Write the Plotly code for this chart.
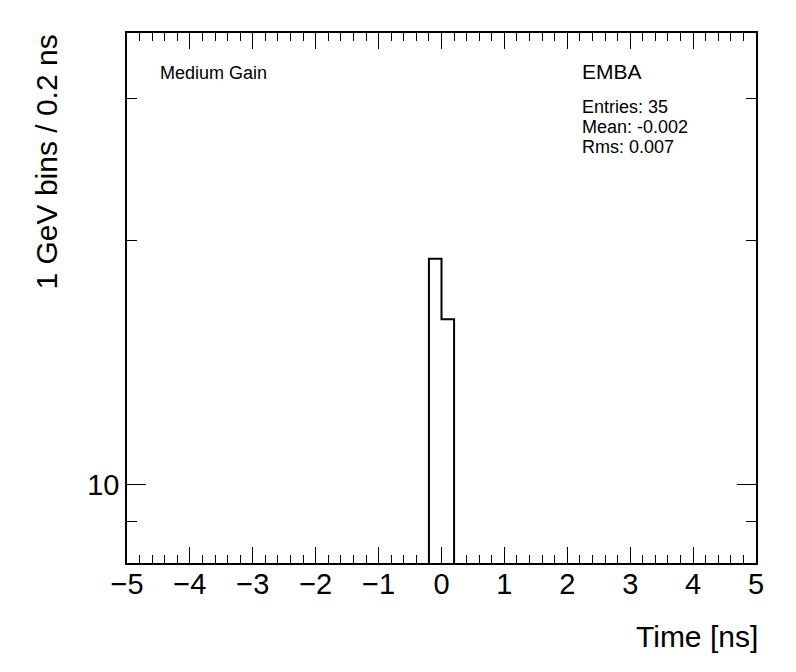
import plotly.graph_objects as go
import math

# ---- data ----
bin_lo = [-0.2, 0.0]
bin_hi = [0.0, 0.2]
counts = [19, 16]
x_range = [-5, 5]
y_range = [8.0, 36.1]
y_major = [10]
y_major_text = ["10"]
y_minor = [9, 20, 30]
stats_title = "EMBA"
stats_lines = ["Entries: 35", "Mean: -0.002", "Rms: 0.007"]
gain_label = "Medium Gain"

# step outline built from bins (drop to below axis at the ends)
floor_y = y_range[0] * 0.5
xs, ys = [bin_lo[0]], [floor_y]
for lo, hi, c in zip(bin_lo, bin_hi, counts):
    xs += [lo, hi]
    ys += [c, c]
xs.append(bin_hi[-1])
ys.append(floor_y)

FONT = "Liberation Sans, Arial, Helvetica, sans-serif"

fig = go.Figure()
fig.add_trace(go.Scatter(x=xs, y=ys, mode="lines",
                         line=dict(color="black", width=2), showlegend=False,
                         hoverinfo="skip"))

# plot area in reference pixels
L, T, W, H = 127, 33, 629, 530
OFF = 8  # page body margin

def px(x):
    return (x - L) / W

def py(y):
    return (T + H - y) / H

fig.update_layout(
    width=796, height=672,
    margin=dict(l=L - OFF, r=796 - (L - OFF) - W, t=T - OFF, b=672 - (T - OFF) - H),
    paper_bgcolor="white", plot_bgcolor="white",
    font=dict(family=FONT, color="black"),
    xaxis=dict(range=x_range, showgrid=False, zeroline=False,
               showline=True, linecolor="black", linewidth=1.5, mirror="ticks",
               ticks="inside", ticklen=16, tickwidth=1, tickcolor="black",
               dtick=1, tick0=0, tickfont=dict(size=29, family=FONT),
               ticklabelstandoff=-6,
               minor=dict(ticks="inside", ticklen=8, dtick=0.2, tick0=0,
                          tickcolor="black", tickwidth=1, showgrid=False)),
    yaxis=dict(type="log", range=[math.log10(y_range[0]), math.log10(y_range[1])],
               showgrid=False, zeroline=False,
               showline=True, linecolor="black", linewidth=1.5, mirror="ticks",
               ticks="inside", ticklen=19, tickwidth=1, tickcolor="black",
               tickmode="array", tickvals=y_major, ticktext=y_major_text,
               tickfont=dict(size=29, family=FONT),
               minor=dict(ticks="inside", ticklen=10, tickmode="array",
                          tickvals=y_minor, tickcolor="black", tickwidth=1,
                          showgrid=False)),
)

ann = []
ann.append(dict(text=gain_label, x=px(158), y=py(73), xref="paper", yref="paper",
                xanchor="left", yanchor="middle", showarrow=False,
                font=dict(size=18, family=FONT)))
ann.append(dict(text=stats_title, x=px(580), y=py(72), xref="paper", yref="paper",
                xanchor="left", yanchor="middle", showarrow=False,
                font=dict(size=21, family=FONT)))
for i, s in enumerate(stats_lines):
    ann.append(dict(text=s, x=px(580), y=py(107 + 20 * i), xref="paper", yref="paper",
                    xanchor="left", yanchor="middle", showarrow=False,
                    font=dict(size=18, family=FONT)))
ann.append(dict(text="Time [ns]", x=px(760), y=py(636), xref="paper", yref="paper",
                xanchor="right", yanchor="middle", showarrow=False,
                font=dict(size=30, family=FONT)))
ann.append(dict(text="1 GeV bins / 0.2 ns", x=px(46), y=1, xref="paper", yref="paper",
                xanchor="center", yanchor="top", textangle=-90, showarrow=False,
                font=dict(size=30, family=FONT)))
fig.update_layout(annotations=ann)

fig.write_html("out.html")
